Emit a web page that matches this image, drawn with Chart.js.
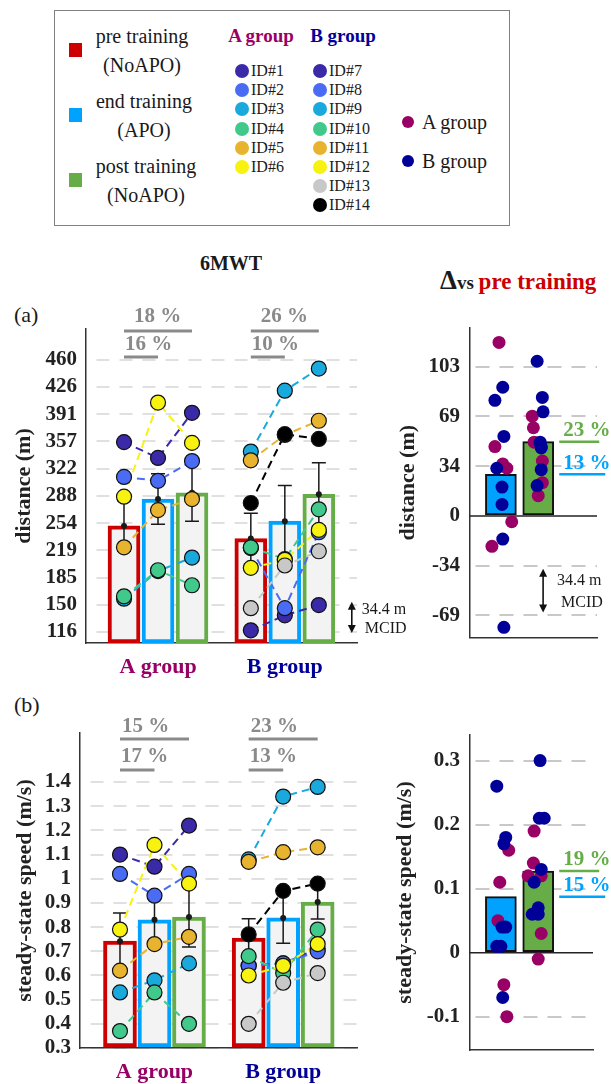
<!DOCTYPE html>
<html>
<head>
<meta charset="utf-8">
<script src="https://cdn.jsdelivr.net/npm/chart.js@4.4.0/dist/chart.umd.min.js"></script>
<style>
  body { margin: 0; width: 611px; height: 1084px; background: #fff; position: relative; overflow: hidden;
         font-family: 'Liberation Serif', 'Times New Roman', serif; color: #1a1a1a; }
  .t { position: absolute; white-space: nowrap; line-height: 1; }
  .c { transform: translate(-50%, -50%); }
  .l { transform: translateY(-50%); }
  canvas { position: absolute; }
  .sq { position: absolute; width: 13px; height: 14px; }
  .dot { position: absolute; border-radius: 50%; }
  #legend { position: absolute; left: 54px; top: 10px; width: 456px; height: 216px; border: 1px solid #808080; box-sizing: border-box; }
</style>
</head>
<body>
<div id="legend"></div>
<div class="t c" style="left:231px;top:263px;font-size:20px;font-weight:bold">6MWT</div>
<div class="t l" style="left:440px;top:280px;font-weight:bold">
  <span style="font-size:27px">&Delta;</span><span style="font-size:19px">vs </span><span style="font-size:23px;color:#cc0000">pre training</span>
</div>
<div class="t l" style="left:14px;top:315px;font-size:22px">(a)</div>
<div class="t l" style="left:14px;top:705px;font-size:22px">(b)</div>

<canvas id="distLeft" width="420" height="400" style="left:0;top:300px"></canvas>
<canvas id="distRight" width="231" height="360" style="left:380px;top:300px"></canvas>
<canvas id="speedLeft" width="420" height="384" style="left:0;top:700px"></canvas>
<canvas id="speedRight" width="231" height="384" style="left:380px;top:700px"></canvas>

<script>
const FONT = "'Liberation Serif', 'Times New Roman', serif";

// ---- data ----
const groups = ['A group', 'B group'];
const groupColors = ['#990066', '#000099'];
const phaseNames = ['pre training', 'end training', 'post training'];
const phaseModes = ['(NoAPO)', '(APO)', '(NoAPO)'];
const phaseColors = ['#cc0000', '#00a2ff', '#66ad47'];
const idNames = ['ID#1', 'ID#2', 'ID#3', 'ID#4', 'ID#5', 'ID#6', 'ID#7', 'ID#8', 'ID#9', 'ID#10', 'ID#11', 'ID#12', 'ID#13', 'ID#14'];
const idGroup = [0, 0, 0, 0, 0, 0, 1, 1, 1, 1, 1, 1, 1, 1];
const idColors = ['#3b2aa8', '#4a6cf5', '#1aa9dc', '#40c98a', '#e8b32e', '#f7f20f',
                  '#3b2aa8', '#4a6cf5', '#1aa9dc', '#40c98a', '#e8b32e', '#f7f20f', '#c8c8c8', '#000000'];

// 6MWT distance (m) per participant
const distPre  = [356, 312, 158, 161, 223, 287, 118, 222, 344, 223, 333, 197, 146, 279];
const distEnd  = [336, 307, 193, 194, 270, 406, 137, 146, 421, 208, 365, 207, 200, 366];
const distPost = [393, 332, 210, 175, 284, 355, 150, 242, 449, 271, 383, 245, 218, 360];
// group means and errors: A pre, end, post, B pre, end, post
const distMean = [250, 284, 292, 234, 256, 290];
const distErr  = [32, 32, 36, 32, 45, 40];
const distTicks = [116, 150.4, 184.8, 219.2, 253.6, 288, 322.4, 356.8, 391.2, 425.6, 460];
const distTickLabels = ['116', '150', '185', '219', '254', '288', '322', '357', '391', '426', '460'];
const distPctEnd  = ['16 %', '10 %'];
const distPctPost = ['18 %', '26 %'];
// change vs pre training (m)
const distDeltaEnd  = [-21, -4, 36, 33, 48, 120, 20, -77, 80, -16, 33, 8, 55, 89];
const distDeltaPost = [38, 23, 51, 14, 61, 69, 32, 21, 107, 47, 51, 48, 72, 82];
const distDeltaMean = [28.8, 51.4];
const distDeltaPct  = ['13 %', '23 %'];
const distDeltaTicks = [-68.8, -34.4, 0, 34.4, 68.8, 103.2];
const distDeltaTickLabels = ['-69', '-34', '0', '34', '69', '103'];
const mcidDist = 34.4;

// steady-state speed (m/s) per participant
const speedPre  = [1.10, 1.02, 0.53, 0.37, 0.62, 0.79, 0.64, 0.64, 1.08, 0.68, 1.07, 0.60, 0.40, 0.77];
const speedEnd  = [1.05, 0.93, 0.58, 0.53, 0.73, 1.14, 0.65, 0.65, 1.34, 0.61, 1.11, 0.64, 0.57, 0.95];
const speedPost = [1.22, 1.02, 0.65, 0.40, 0.76, 0.98, 0.71, 0.70, 1.38, 0.79, 1.13, 0.73, 0.61, 0.98];
const speedMean = [0.742, 0.83, 0.842, 0.755, 0.838, 0.904];
const speedErr  = [0.116, 0.10, 0.124, 0.08, 0.105, 0.07];
const speedTicks = [0.3, 0.4, 0.5, 0.6, 0.7, 0.8, 0.9, 1.0, 1.1, 1.2, 1.3, 1.4];
const speedTickLabels = ['0.3', '0.4', '0.5', '0.6', '0.7', '0.8', '0.9', '1', '1.1', '1.2', '1.3', '1.4'];
const speedPctEnd  = ['17 %', '13 %'];
const speedPctPost = ['15 %', '23 %'];
const speedDeltaEnd  = [-0.05, -0.10, 0.05, 0.16, 0.11, null, 0.01, 0.01, 0.26, -0.07, 0.04, 0.04, 0.17, 0.18];
const speedDeltaPost = [0.12, -0.01, 0.12, 0.03, 0.14, 0.19, 0.07, 0.06, 0.30, 0.11, 0.06, 0.13, 0.21, 0.21];
const speedDeltaMean = [0.0875, 0.1275];
const speedDeltaPct  = ['15 %', '19 %'];
const speedDeltaTicks = [-0.1, 0, 0.1, 0.2, 0.3];
const speedDeltaTickLabels = ['-0.1', '0', '0.1', '0.2', '0.3'];

// ---- layout (x slots and dot scatter, in axis units) ----
const slot = [1, 2, 3, 4.73, 5.73, 6.73];
const groupCenter = [2, 5.73];
const jitDist  = [[-0.24, 0.29, 0.05, 0.16, -0.16, -0.05, 0.03, 0.08, -0.16, 0.05, -0.11, 0.03, 0.08, 0.05],
                  [0.11, 0.11, -0.11, 0, -0.13, -0.16, 0.08, -0.03, -0.03, 0.08, 0.05, 0.08, 0.13, 0.11]];
const jitSpeed = [[0.08, 0.16, -0.08, 0.21, -0.03, 0, 0, -0.11, -0.11, 0.05, 0.13, 0.03, 0.08, 0.13],
                  [-0.27, 0, 0.08, 0.08, -0.13, -0.11, 0, 0, 0.05, -0.11, -0.16, 0.08, 0.03, 0.16]];

// ---- legend (html) ----
const legend = document.getElementById('legend');
function add(html) { document.body.insertAdjacentHTML('beforeend', html); }
phaseNames.forEach((n, i) => {
  const cy = 36 + i * 65;
  add(`<div class="sq" style="left:69px;top:${cy + 7}px;background:${phaseColors[i]}"></div>`);
  add(`<div class="t c" style="left:${142 + i * 2}px;top:${cy}px;font-size:20px">${n}</div>`);
  add(`<div class="t c" style="left:${142 + i * 2}px;top:${cy + 29}px;font-size:20px">${phaseModes[i]}</div>`);
});
groups.forEach((g, i) => {
  add(`<div class="t c" style="left:${261 + i * 82}px;top:35px;font-size:19px;font-weight:bold;color:${groupColors[i]}">${g}</div>`);
  add(`<div class="dot" style="left:402px;top:${116 + i * 39}px;width:12px;height:12px;background:${groupColors[i]}"></div>`);
  add(`<div class="t l" style="left:422px;top:${122 + i * 39}px;font-size:20px">${g}</div>`);
});
let rowA = 0, rowB = 0;
idNames.forEach((n, k) => {
  const col = idGroup[k];
  const row = col === 0 ? rowA++ : rowB++;
  const cx = col === 0 ? 242 : 320;
  const cy = 71 + row * 19.2;
  add(`<div class="dot" style="left:${cx - 7}px;top:${cy - 7}px;width:14px;height:14px;background:${idColors[k]}"></div>`);
  add(`<div class="t l" style="left:${cx + 9}px;top:${cy}px;font-size:16px">${n}</div>`);
});

// ---- helpers ----
function drawArrow(ctx, x, y1, y2) {
  ctx.save();
  ctx.strokeStyle = '#111'; ctx.fillStyle = '#111'; ctx.lineWidth = 1.6;
  ctx.beginPath(); ctx.moveTo(x, y1 + 6); ctx.lineTo(x, y2 - 6); ctx.stroke();
  ctx.beginPath(); ctx.moveTo(x, y1); ctx.lineTo(x - 4, y1 + 8); ctx.lineTo(x + 4, y1 + 8); ctx.closePath(); ctx.fill();
  ctx.beginPath(); ctx.moveTo(x, y2); ctx.lineTo(x - 4, y2 - 8); ctx.lineTo(x + 4, y2 - 8); ctx.closePath(); ctx.fill();
  ctx.restore();
}

function leftChart(id, d) {
  const datasets = [{
    type: 'bar',
    data: d.mean.map((m, i) => ({ x: slot[i], y: m })),
    backgroundColor: '#f3f3f3',
    borderColor: d.mean.map((m, i) => phaseColors[i % 3]),
    borderWidth: 4, borderSkipped: false, barThickness: d.barW, base: d.min, order: 100
  }];
  d.pre.forEach((v, k) => {
    const off = idGroup[k] * 3;
    const pts = [v, d.end[k], d.post[k]].map((y, j) => ({ x: slot[off + j], y }));
    datasets.push({ type: 'line', data: pts, borderColor: idColors[k], borderWidth: 2, borderDash: [8, 5],
                    pointRadius: 0, fill: false, order: 60 - k });
    datasets.push({ type: 'scatter', data: pts, pointRadius: 7.5, pointBackgroundColor: idColors[k],
                    pointBorderColor: '#111', pointBorderWidth: 1.2, order: 30 - k });
  });

  const decor = {
    id: 'decor',
    afterDatasetDraw(chart, args) {
      if (args.index !== 0) return;
      const { ctx, scales: { x, y } } = chart;
      ctx.save();
      ctx.strokeStyle = '#1a1a1a'; ctx.fillStyle = '#1a1a1a'; ctx.lineWidth = 1.5;
      d.mean.forEach((m, i) => {
        const px = x.getPixelForValue(slot[i]);
        const top = y.getPixelForValue(m + d.err[i]);
        const bot = y.getPixelForValue(m - d.err[i]);
        ctx.beginPath();
        ctx.moveTo(px, top); ctx.lineTo(px, bot);
        ctx.moveTo(px - 7, top); ctx.lineTo(px + 7, top);
        ctx.moveTo(px - 7, bot); ctx.lineTo(px + 7, bot);
        ctx.stroke();
        ctx.beginPath(); ctx.arc(px, y.getPixelForValue(m), 3, 0, Math.PI * 2); ctx.fill();
      });
      ctx.restore();
    },
    afterDraw(chart) {
      const { ctx, chartArea, scales: { x, y } } = chart;
      const t = chartArea.top;
      ctx.save();
      ctx.font = `bold 21px ${FONT}`;
      ctx.fillStyle = '#8a8a8a'; ctx.strokeStyle = '#8a8a8a'; ctx.lineWidth = 3;
      ctx.textBaseline = 'middle'; ctx.textAlign = 'left';
      groups.forEach((g, gi) => {
        const x0 = x.getPixelForValue(slot[gi * 3]);
        const x1 = x.getPixelForValue(slot[gi * 3 + 1]);
        const x2 = x.getPixelForValue(slot[gi * 3 + 2]);
        ctx.fillText(d.pctPost[gi], x0 + d.pctShift, t + d.rows[0]);
        ctx.beginPath(); ctx.moveTo(x0, t + d.rows[1]); ctx.lineTo(x2, t + d.rows[1]); ctx.stroke();
        ctx.fillText(d.pctEnd[gi], x0 + 1, t + d.rows[2]);
        ctx.beginPath(); ctx.moveTo(x0, t + d.rows[3]); ctx.lineTo(x1, t + d.rows[3]); ctx.stroke();
      });
      if (d.mcid) {
        const ax = x.getPixelForValue(7.7);
        const ya = y.getPixelForValue(d.ticks[1]);
        const yb = y.getPixelForValue(d.ticks[0]);
        drawArrow(ctx, ax, ya - 3, yb + 1);
        ctx.fillStyle = '#1a1a1a';
        ctx.font = `16px ${FONT}`;
        ctx.fillText(d.mcid + ' m', ax + 10, ya + 5);
        ctx.fillText('MCID', ax + 13, ya + 24);
      }
      ctx.restore();
    }
  };

  return new Chart(document.getElementById(id), {
    type: 'scatter',
    data: { datasets },
    options: {
      responsive: false, animation: false, devicePixelRatio: 1,
      layout: { padding: { top: d.padTop, right: d.padRight, left: 0, bottom: 0 } },
      plugins: { legend: { display: false }, tooltip: { enabled: false } },
      scales: {
        x: {
          type: 'linear', min: d.xmin, max: d.xmax, offset: false, bounds: 'data',
          grid: { display: false, offset: false, drawTicks: false },
          border: { display: true, color: '#333', width: 1.5 },
          afterBuildTicks: s => { s.ticks = groupCenter.map(v => ({ value: v })); },
          afterFit: s => { s.height = d.xHeight; },
          ticks: {
            autoSkip: false, maxRotation: 0, padding: 11,
            callback: (v, i) => groups[i],
            color: c => groupColors[c.index],
            font: { family: FONT, size: 22, weight: 'bold' }
          }
        },
        y: {
          type: 'linear', min: d.min, max: d.max, bounds: 'data',
          afterBuildTicks: s => { s.ticks = d.ticks.map(v => ({ value: v })); },
          afterFit: s => { s.width = d.yWidth; },
          ticks: { padding: 9, color: '#222', callback: (v, i) => d.tickLabels[i],
                   font: { family: FONT, size: 21, weight: 'bold' } },
          grid: { color: '#e0e0e0', lineWidth: 2, drawTicks: false },
          border: { display: true, color: '#333', width: 1.5, dash: [13, 10], dashOffset: 13 },
          title: { display: true, text: d.title, color: '#222', padding: { top: d.titlePad, bottom: 0 },
                   font: { family: FONT, size: 22, weight: 'bold' } }
        }
      }
    },
    plugins: [decor]
  });
}

function rightChart(id, d) {
  const datasets = [{
    type: 'bar',
    data: d.mean.map((m, i) => ({ x: i + 1, y: m })),
    backgroundColor: [phaseColors[1], phaseColors[2]],
    borderColor: '#111', borderWidth: 2, borderSkipped: false, barThickness: 31, base: 0, order: 100
  }];
  groups.forEach((g, gi) => {
    const pts = [];
    [d.end, d.post].forEach((arr, c) => {
      arr.forEach((v, k) => {
        if (idGroup[k] === gi && v !== null) pts.push({ x: c + 1 + d.jit[c][k], y: v });
      });
    });
    datasets.push({ type: 'scatter', data: pts, pointRadius: 6.5, pointBackgroundColor: groupColors[gi],
                    pointBorderWidth: 0, order: 10 - gi });
  });

  const decor = {
    id: 'decor',
    beforeDatasetsDraw(chart) {
      const { ctx, chartArea, scales: { y } } = chart;
      const y0 = y.getPixelForValue(0);
      ctx.save(); ctx.strokeStyle = '#222'; ctx.lineWidth = 1.5;
      ctx.beginPath(); ctx.moveTo(chartArea.left, y0); ctx.lineTo(chartArea.right, y0); ctx.stroke();
      ctx.restore();
    },
    afterDraw(chart) {
      const { ctx, scales: { x, y } } = chart;
      const xs = x.getPixelForValue(2) + 21;
      ctx.save();
      ctx.font = `bold 21px ${FONT}`;
      ctx.textBaseline = 'middle'; ctx.textAlign = 'left'; ctx.lineWidth = 2.5;
      d.pct.forEach((p, i) => {
        const ym = y.getPixelForValue(d.mean[i]);
        const col = phaseColors[i + 1];
        ctx.fillStyle = col; ctx.strokeStyle = col;
        ctx.fillText(p, xs + 4, ym - 11);
        ctx.beginPath(); ctx.moveTo(xs, ym); ctx.lineTo(xs + (i === 0 ? 46 : 40), ym); ctx.stroke();
      });
      if (d.mcid) {
        const ax = x.getPixelForValue(2.13);
        const ya = y.getPixelForValue(-d.mcid);
        const yb = y.getPixelForValue(-2 * d.mcid);
        drawArrow(ctx, ax, ya + 3, yb - 3);
        ctx.fillStyle = '#1a1a1a';
        ctx.font = `16px ${FONT}`;
        ctx.fillText(d.mcid + ' m', ax + 14, ya + 15);
        ctx.fillText('MCID', ax + 18, ya + 37);
      }
      ctx.restore();
    }
  };

  return new Chart(document.getElementById(id), {
    type: 'scatter',
    data: { datasets },
    options: {
      responsive: false, animation: false, devicePixelRatio: 1,
      layout: { padding: { top: d.padTop, right: d.padRight, left: 0, bottom: 0 } },
      plugins: { legend: { display: false }, tooltip: { enabled: false } },
      scales: {
        x: {
          type: 'linear', min: d.xmin, max: d.xmax, offset: false, bounds: 'data',
          grid: { display: false, offset: false },
          border: { display: true, color: '#333', width: 1.5 },
          ticks: { display: false },
          afterFit: s => { s.height = d.xHeight; }
        },
        y: {
          type: 'linear', min: d.min, max: d.max, bounds: 'data',
          afterBuildTicks: s => { s.ticks = d.ticks.map(v => ({ value: v })); },
          afterFit: s => { s.width = 90; },
          ticks: { padding: 10, color: '#222', callback: (v, i) => d.tickLabels[i],
                   font: { family: FONT, size: 21, weight: 'bold' } },
          grid: { color: c => (c.tick && c.tick.value === 0) ? 'rgba(0,0,0,0)' : '#c8c8c8',
                  lineWidth: 2, drawTicks: false },
          border: { display: true, color: '#333', width: 1.5, dash: [14, 10], dashOffset: 19 },
          title: { display: true, text: d.title, color: '#222', padding: { top: d.titlePad, bottom: 0 },
                   font: { family: FONT, size: 22, weight: 'bold' } }
        }
      }
    },
    plugins: [decor]
  });
}

leftChart('distLeft', {
  pre: distPre, end: distEnd, post: distPost, mean: distMean, err: distErr,
  ticks: distTicks, tickLabels: distTickLabels, pctEnd: distPctEnd, pctPost: distPctPost,
  min: 102, max: 499, xmin: -0.118, xmax: 7.853, barW: 32,
  padTop: 29, padRight: 63, xHeight: 57, yWidth: 86, titlePad: 11,
  rows: [-12, 2, 16, 28], pctShift: 10, mcid: mcidDist, title: 'distance (m)'
});
rightChart('distRight', {
  end: distDeltaEnd, post: distDeltaPost, mean: distDeltaMean, pct: distDeltaPct, jit: jitDist,
  ticks: distDeltaTicks, tickLabels: distDeltaTickLabels,
  min: -84, max: 130, xmin: 0.173, xmax: 3.573, padTop: 28, padRight: 14, xHeight: 19,
  titlePad: 15, mcid: mcidDist, title: 'distance (m)'
});
leftChart('speedLeft', {
  pre: speedPre, end: speedEnd, post: speedPost, mean: speedMean, err: speedErr,
  ticks: speedTicks, tickLabels: speedTickLabels, pctEnd: speedPctEnd, pctPost: speedPctPost,
  min: 0.3, max: 1.603, xmin: -0.159, xmax: 7.87, barW: 33,
  padTop: 33, padRight: 63, xHeight: 36, yWidth: 80, titlePad: 12,
  rows: [-6, 6, 24, 37], pctShift: 2, mcid: null, title: 'steady-state speed (m/s)'
});
rightChart('speedRight', {
  end: speedDeltaEnd, post: speedDeltaPost, mean: speedDeltaMean, pct: speedDeltaPct, jit: jitSpeed,
  ticks: speedDeltaTicks, tickLabels: speedDeltaTickLabels,
  min: -0.152, max: 0.34, xmin: 0.173, xmax: 3.467, padTop: 35, padRight: 18, xHeight: 34,
  titlePad: 12, mcid: null, title: 'steady-state speed (m/s)'
});
</script>
</body>
</html>
